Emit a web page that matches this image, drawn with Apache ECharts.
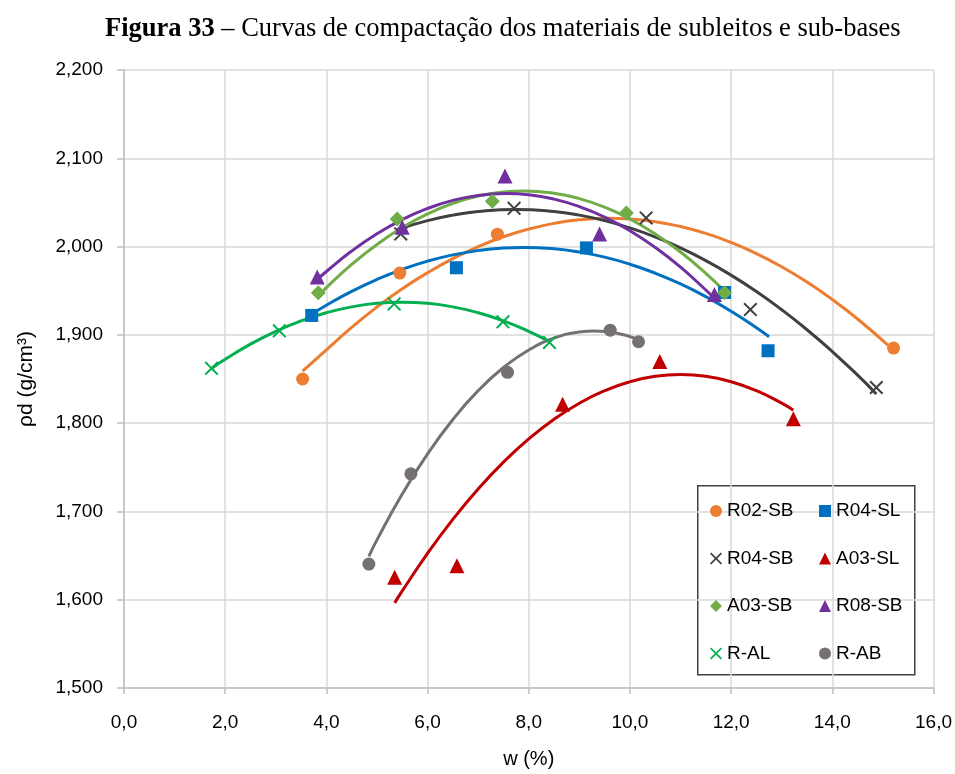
<!DOCTYPE html>
<html>
<head>
<meta charset="utf-8">
<script src="https://cdn.jsdelivr.net/npm/echarts@6/dist/echarts.min.js"></script>
<style>
  html, body { margin: 0; padding: 0; background: #ffffff; }
  #chart { width: 955px; height: 774px; }
</style>
</head>
<body>
<div id="chart"></div>
<script>
// ---------- data ----------
const titleBold = 'Figura 33';
const titleRest = ' – Curvas de compactação dos materiais de subleitos e sub-bases';
const xAxisTitle = 'w (%)';
const yAxisTitle = 'ρd (g/cm³)';

const xMin = 0, xMax = 16, xStep = 2;
const yMin = 1.5, yMax = 2.2, yStep = 0.1;

const seriesNames = ['R02-SB', 'R04-SL', 'R04-SB', 'A03-SL', 'A03-SB', 'R08-SB', 'R-AL', 'R-AB'];
const legendLeftCol = ['R02-SB', 'R04-SB', 'A03-SB', 'R-AL'];
const legendRightCol = ['R04-SL', 'A03-SL', 'R08-SB', 'R-AB'];

// measured points [w, rho_d]
const r02sbPoints = [[3.53, 1.850], [5.45, 1.970], [7.38, 2.014], [15.21, 1.885]];
const r04slPoints = [[3.71, 1.922], [6.57, 1.976], [9.14, 1.9985], [11.87, 1.948], [12.73, 1.882]];
const r04sbPoints = [[5.47, 2.0143], [7.71, 2.0433], [10.32, 2.0324], [12.38, 1.9286], [14.87, 1.8404]];
const a03slPoints = [[5.35, 1.6254], [6.58, 1.6385], [8.67, 1.8215], [10.59, 1.8697], [13.23, 1.805]];
const a03sbPoints = [[3.84, 1.9478], [5.40, 2.0312], [7.28, 2.0512], [9.93, 2.038], [11.87, 1.9478]];
const r08sbPoints = [[3.82, 1.9655], [5.50, 2.022], [7.53, 2.080], [9.40, 2.0143], [11.67, 1.9456]];
const ralPoints   = [[1.73, 1.8621], [3.07, 1.9046], [5.34, 1.935], [7.49, 1.9148], [8.41, 1.8914]];
const rabPoints   = [[4.84, 1.6404], [5.67, 1.7426], [7.58, 1.8576], [9.61, 1.9053], [10.17, 1.8922]];

// trend curves, values [w, rho_d]
const r02sbCurve = [[3.53, 1.859], [4.0, 1.883], [4.5, 1.9085], [5.0, 1.9315], [5.5, 1.9522], [6.0, 1.9704], [6.5, 1.9864], [7.0, 1.9999], [7.5, 2.0111], [8.0, 2.0198], [8.5, 2.0263], [9.0, 2.0303], [9.6, 2.032], [10.0, 2.0312], [10.5, 2.0282], [11.0, 2.0227], [11.5, 2.0149], [12.0, 2.0046], [12.5, 1.9921], [13.0, 1.9771], [13.5, 1.9598], [14.0, 1.940], [14.5, 1.918], [15.10, 1.8883]];
const r04slCurve = [[3.71, 1.9235], [4.0, 1.9336], [4.5, 1.9493], [5.0, 1.9628], [5.5, 1.9742], [6.0, 1.9835], [6.5, 1.9906], [7.0, 1.9955], [7.5, 1.9983], [7.9, 1.999], [8.5, 1.9975], [9.0, 1.9938], [9.5, 1.988], [10.0, 1.980], [10.5, 1.9699], [11.0, 1.9577], [11.5, 1.9433], [12.0, 1.9267], [12.5, 1.908], [12.75, 1.8979]];
const r04sbCurve = [[5.40, 2.0193], [6.0, 2.0294], [6.5, 2.0356], [7.0, 2.0397], [7.75, 2.042], [8.5, 2.0397], [9.0, 2.0356], [9.5, 2.0294], [10.0, 2.0211], [10.5, 2.0108], [11.0, 1.9985], [11.5, 1.9841], [12.0, 1.9676], [12.5, 1.9491], [13.0, 1.9284], [13.5, 1.9058], [14.0, 1.8811], [14.5, 1.8543], [14.87, 1.8331]];
const a03slCurve = [[5.35, 1.5964], [5.5, 1.610], [6.0, 1.6525], [6.5, 1.691], [7.0, 1.7254], [7.5, 1.7558], [8.0, 1.7821], [8.5, 1.8044], [9.0, 1.8226], [9.5, 1.8368], [10.0, 1.8469], [10.5, 1.853], [11.0, 1.855], [11.5, 1.853], [12.0, 1.8469], [12.5, 1.8368], [13.0, 1.8226], [13.23, 1.8147]];
const a03sbCurve = [[3.91, 1.948], [4.0, 1.9535], [4.5, 1.9798], [5.0, 2.0024], [5.5, 2.0215], [6.0, 2.037], [6.5, 2.0489], [7.0, 2.0572], [7.5, 2.0618], [7.9, 2.063], [8.5, 2.0604], [9.0, 2.0543], [9.5, 2.0446], [10.0, 2.0312], [10.5, 2.0143], [11.0, 1.9938], [11.5, 1.9697], [11.87, 1.9495]];
const r08sbCurve = [[3.79, 1.9614], [4.0, 1.9718], [4.5, 1.9949], [5.0, 2.0145], [5.5, 2.0306], [6.0, 2.0432], [6.5, 2.0523], [7.0, 2.0579], [7.55, 2.060], [8.0, 2.0586], [8.5, 2.0537], [9.0, 2.0453], [9.5, 2.0334], [10.0, 2.018], [10.5, 1.999], [11.0, 1.9767], [11.5, 1.9508], [11.61, 1.9446]];
const ralCurve   = [[1.73, 1.862], [2.0, 1.8723], [2.5, 1.8895], [3.0, 1.904], [3.5, 1.9159], [4.0, 1.9251], [4.5, 1.9317], [5.0, 1.9357], [5.5, 1.937], [6.0, 1.9357], [6.5, 1.9317], [7.0, 1.9251], [7.5, 1.9159], [8.0, 1.904], [8.41, 1.8923]];
const rabCurve   = [[4.84, 1.649], [5.0, 1.6678], [5.5, 1.7197], [6.0, 1.7651], [6.5, 1.8041], [7.0, 1.8368], [7.5, 1.863], [8.0, 1.8829], [8.5, 1.8963], [9.0, 1.9033], [9.3, 1.9045], [9.7, 1.9025], [10.16, 1.895]];

// ---------- styling ----------
const crossPath = 'path://M0,1 L1,0 L5,4 L9,0 L10,1 L6,5 L10,9 L9,10 L5,6 L1,10 L0,9 L4,5 Z';
const styles = {
  'R02-SB': { color: '#ed7d31', symbol: 'circle', size: 13 },
  'R04-SL': { color: '#0070c0', symbol: 'rect', size: 13 },
  'R04-SB': { color: '#404040', symbol: crossPath, size: 14 },
  'A03-SL': { color: '#c00000', symbol: 'triangle', size: 15 },
  'A03-SB': { color: '#70ad47', symbol: 'diamond', size: 15 },
  'R08-SB': { color: '#7030a0', symbol: 'triangle', size: 15 },
  'R-AL':   { color: '#00b050', symbol: crossPath, size: 14 },
  'R-AB':   { color: '#767171', symbol: 'circle', size: 13 }
};
const pointsByName = {
  'R02-SB': r02sbPoints, 'R04-SL': r04slPoints, 'R04-SB': r04sbPoints, 'A03-SL': a03slPoints,
  'A03-SB': a03sbPoints, 'R08-SB': r08sbPoints, 'R-AL': ralPoints, 'R-AB': rabPoints
};
const curvesByName = {
  'R02-SB': r02sbCurve, 'R04-SL': r04slCurve, 'R04-SB': r04sbCurve, 'A03-SL': a03slCurve,
  'A03-SB': a03sbCurve, 'R08-SB': r08sbCurve, 'R-AL': ralCurve, 'R-AB': rabCurve
};

const series = [];
seriesNames.forEach(function (n) {
  series.push({
    name: n + ' (curva)', type: 'line', data: curvesByName[n], smooth: 0.5,
    showSymbol: false, symbol: 'none', z: 2, silent: true,
    lineStyle: { color: styles[n].color, width: 3 }
  });
});
seriesNames.forEach(function (n) {
  series.push({
    name: n, type: 'scatter', data: pointsByName[n], z: 3,
    symbol: styles[n].symbol, symbolSize: styles[n].size,
    itemStyle: { color: styles[n].color, opacity: 1 }
  });
});

const fmtComma = function (d) { return function (v) { return v.toFixed(d).replace('.', ','); }; };
const axisFont = { fontFamily: 'Liberation Sans', fontSize: 19, color: '#000000' };

const legendCommon = {
  orient: 'vertical', itemWidth: 12, itemHeight: 12, itemGap: 27.5,
  textStyle: { fontFamily: 'Liberation Sans', fontSize: 19, color: '#000000', lineHeight: 20 },
  selectedMode: false
};

const option = {
  backgroundColor: '#ffffff',
  animation: false,
  title: {
    text: '{b|' + titleBold + '}{n|' + titleRest + '}',
    left: 100, top: 11,
    textStyle: {
      rich: {
        b: { fontFamily: 'Liberation Serif', fontSize: 26.5, fontWeight: 'bold', color: '#000' },
        n: { fontFamily: 'Liberation Serif', fontSize: 26.5, fontWeight: 'normal', color: '#000' }
      }
    }
  },
  grid: { left: 124, right: 21, top: 70, bottom: 81, containLabel: false },
  xAxis: {
    type: 'value', min: xMin, max: xMax, interval: xStep,
    name: xAxisTitle, nameLocation: 'middle', nameGap: 61,
    nameTextStyle: { fontFamily: 'Liberation Sans', fontSize: 20, color: '#000000' },
    axisLine: { show: true, lineStyle: { color: '#bfbfbf', width: 1.5 } },
    axisTick: { show: true, length: 6, lineStyle: { color: '#bfbfbf', width: 1.5 } },
    axisLabel: Object.assign({ formatter: fmtComma(1), margin: 25 }, axisFont),
    splitLine: { show: true, lineStyle: { color: '#d9d9d9', width: 1.5 } }
  },
  yAxis: {
    type: 'value', min: yMin, max: yMax, interval: yStep,
    name: yAxisTitle, nameLocation: 'middle', nameGap: 87,
    nameTextStyle: { fontFamily: 'Liberation Sans', fontSize: 21, color: '#000000' },
    axisLine: { show: true, lineStyle: { color: '#bfbfbf', width: 1.5 } },
    axisTick: { show: true, length: 7, lineStyle: { color: '#bfbfbf', width: 1.5 } },
    axisLabel: Object.assign({ formatter: fmtComma(3), margin: 21 }, axisFont),
    splitLine: { show: true, lineStyle: { color: '#d9d9d9', width: 1.5 } }
  },
  legend: [
    Object.assign({}, legendCommon, { data: legendLeftCol, left: 705, top: 496 }),
    Object.assign({}, legendCommon, { data: legendRightCol, left: 814, top: 496 })
  ],
  graphic: [{
    type: 'rect', left: 697, top: 485, z: 0, zlevel: 0,
    shape: { width: 217, height: 189 },
    style: { fill: '#ffffff', stroke: '#404040', lineWidth: 1.5 }
  }],
  series: series
};

const chart = echarts.init(document.getElementById('chart'), null, { renderer: 'canvas' });
chart.setOption(option);
</script>
</body>
</html>
